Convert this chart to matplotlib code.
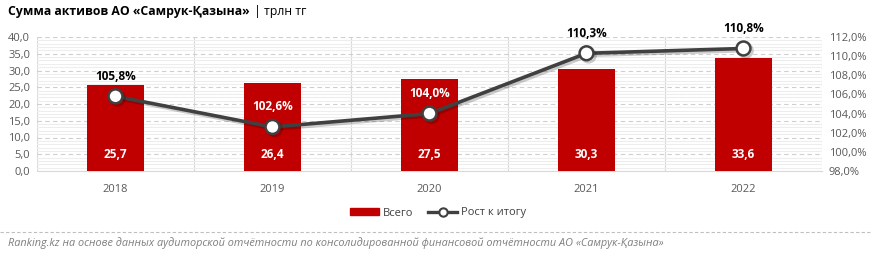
import matplotlib
matplotlib.use("Agg")
import matplotlib.pyplot as plt
import matplotlib.patheffects as pe
import numpy as np
from matplotlib.ticker import MultipleLocator, FuncFormatter
from matplotlib.patches import Patch
from matplotlib.lines import Line2D

plt.rcParams["font.family"] = ["Open Sans", "DejaVu Sans"]

years = ["2018", "2019", "2020", "2021", "2022"]
assets = [25.7, 26.4, 27.5, 30.3, 33.6]
growth = [105.8, 102.6, 104.0, 110.3, 110.8]

W, H = 872, 256
BAR_RED = "#c00000"
LINE_GREY = "#404040"
TICK_GREY = "#595959"


def fmt_comma(v, digits=1, suffix=""):
    return f"{v:.{digits}f}".replace(".", ",") + suffix


fig = plt.figure(figsize=(W / 100, H / 100), dpi=100)
ax = fig.add_axes([37 / W, (H - 171) / H, 785 / W, 134 / H])
ax2 = ax.twinx()

x = np.arange(len(years))
bars = ax.bar(x, assets, width=0.36, color=BAR_RED, zorder=3)
for xi, v in zip(x, assets):
    ax.text(xi, 4.8, fmt_comma(v), ha="center", va="center", color="white",
            fontsize=8.5, fontweight="bold", zorder=4)

ax.set_xlim(-0.5, len(years) - 0.5)
ax.set_ylim(0, 40)
ax.yaxis.set_major_locator(MultipleLocator(5))
ax.yaxis.set_minor_locator(MultipleLocator(1))
ax.yaxis.set_major_formatter(FuncFormatter(lambda v, _: fmt_comma(v)))
ax.grid(axis="y", which="major", color="#cfcfcf", linestyle=(0, (4, 3)), linewidth=0.8, zorder=1)
ax.grid(axis="y", which="minor", color="#ededed", linestyle="-", linewidth=0.8, zorder=0)
for b in np.arange(-0.5, len(years), 1.0):
    ax.axvline(b, color="#d9d9d9", linewidth=0.8, zorder=1)
ax.set_xticks(x)
ax.set_xticklabels(years)
ax.tick_params(axis="both", which="both", length=0, colors=TICK_GREY, labelsize=8)
ax.tick_params(axis="x", pad=9)
ax.tick_params(axis="y", pad=5)

ax2.plot(x, growth, color=LINE_GREY, linewidth=2.6, marker="o", markersize=10,
         markerfacecolor="white", markeredgecolor=LINE_GREY, markeredgewidth=1.8,
         zorder=5,
         path_effects=[pe.SimpleLineShadow(offset=(1.5, -1.5), alpha=0.2), pe.Normal()])
ax2.set_ylim(98, 112)
ax2.yaxis.set_major_locator(MultipleLocator(2))
ax2.yaxis.set_major_formatter(FuncFormatter(lambda v, _: fmt_comma(v, suffix="%")))
ax2.tick_params(axis="y", length=0, colors=TICK_GREY, labelsize=8, pad=5)

for a in (ax, ax2):
    for s in a.spines.values():
        s.set_visible(False)
ax.spines["bottom"].set_visible(True)
ax.spines["bottom"].set_color("#d9d9d9")
ax.set_zorder(ax2.get_zorder() - 1)
ax2.patch.set_visible(False)

# growth labels: white when they sit on a bar, black above it
fig.canvas.draw()
for xi, v, bar in zip(x, growth, bars):
    label_y = ax2.transData.transform((xi, v))[1] + 20
    bar_top = ax.transData.transform((xi, bar.get_height()))[1]
    colour = "white" if label_y < bar_top - 4 else "black"
    ax2.annotate(fmt_comma(v, suffix="%"), (xi, v), xytext=(0, 14.4), textcoords="offset points",
                 ha="center", va="center", fontsize=8.5, fontweight="bold", color=colour)

# legend
handles = [Patch(color=BAR_RED, label="Всего"),
           Line2D([0], [0], color=LINE_GREY, linewidth=2.4, marker="o", markersize=6,
                  markerfacecolor="white", markeredgecolor=LINE_GREY, markeredgewidth=1.5,
                  label="Рост к итогу")]
fig.legend(handles=handles, loc="center", bbox_to_anchor=(438 / W, 1 - 213 / H), ncol=2,
           frameon=False, fontsize=8, handlelength=2.6, handleheight=0.6,
           columnspacing=1.4, handletextpad=0.3, labelcolor="#404040")

# title
t = fig.text(8 / W, 1 - 12 / H, "Сумма активов АО «Самрук-Қазына»", fontsize=8.8,
             fontweight="bold", va="center", ha="left", color="black")
fig.canvas.draw()
bb = t.get_window_extent()
fig.text((bb.x1 + 4) / W, 1 - 12 / H, "| трлн тг", fontsize=8.8, va="center", ha="left",
         color="black")

# footer
fig.add_artist(Line2D([0, 1], [1 - 232 / H] * 2, color="#bfbfbf", linewidth=0.8,
                      linestyle=(0, (3, 2)), transform=fig.transFigure))
fig.text(8 / W, 1 - 243 / H,
         "Ranking.kz на основе данных аудиторской отчётности по консолидированной финансовой отчётности АО «Самрук-Қазына»",
         fontsize=7.85, style="italic", color="#7f7f7f", va="center", ha="left")

fig.savefig("out.png", dpi=100)
